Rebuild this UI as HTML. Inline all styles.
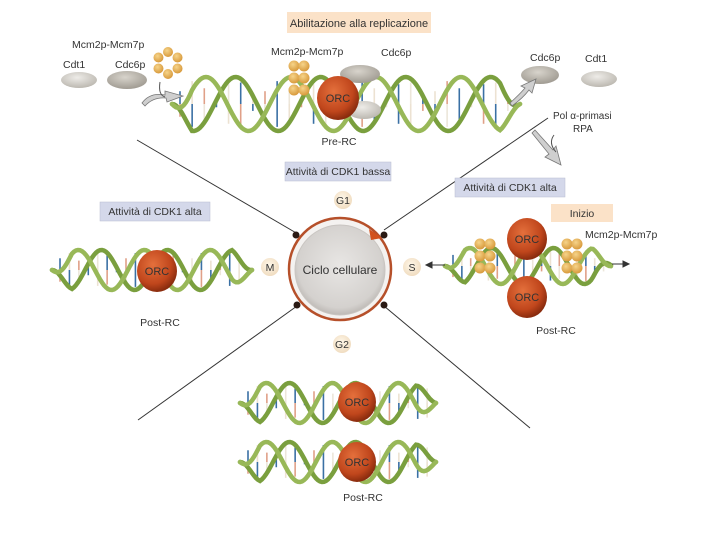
<!DOCTYPE html>
<html><head><meta charset="utf-8">
<style>
html,body{margin:0;padding:0;background:#fff;width:720px;height:540px;overflow:hidden}
svg{display:block}
text{font-family:"Liberation Sans",sans-serif;fill:#333}
</style></head>
<body>
<svg id="s" width="720" height="540" viewBox="0 0 720 540" xmlns="http://www.w3.org/2000/svg">
<defs>
<radialGradient id="orc" cx="40%" cy="35%" r="65%">
<stop offset="0" stop-color="#e4703c"/><stop offset="0.7" stop-color="#c0461c"/><stop offset="1" stop-color="#8a2c0e"/>
</radialGradient>
<radialGradient id="mcm" cx="40%" cy="35%" r="65%">
<stop offset="0" stop-color="#f6d48a"/><stop offset="1" stop-color="#d89a3c"/>
</radialGradient>
<radialGradient id="gry" cx="45%" cy="35%" r="70%">
<stop offset="0" stop-color="#eeece8"/><stop offset="1" stop-color="#b8b4ac"/>
</radialGradient>
<radialGradient id="dgry" cx="45%" cy="35%" r="70%">
<stop offset="0" stop-color="#d8d4cc"/><stop offset="1" stop-color="#9c978e"/>
</radialGradient>
<radialGradient id="cyc" cx="50%" cy="45%" r="55%">
<stop offset="0" stop-color="#e8e6e4"/><stop offset="0.85" stop-color="#d4d1ce"/><stop offset="1" stop-color="#bdb9b5"/>
</radialGradient>
<radialGradient id="lbl" cx="45%" cy="40%" r="60%">
<stop offset="0" stop-color="#fff8ea"/><stop offset="1" stop-color="#f0dcc0"/>
</radialGradient>
</defs>

<g stroke="#333" stroke-width="1" fill="none">
<line x1="137" y1="140" x2="298" y2="234"/>
<line x1="548" y1="118" x2="384" y2="230"/>
<line x1="297" y1="306" x2="138" y2="420"/>
<line x1="384" y1="306" x2="530" y2="428"/>
</g>

<g id="helices"></g>

<rect x="287" y="12" width="144" height="21" fill="#fbe2c8"/>
<text x="359" y="27" font-size="11" text-anchor="middle">Abilitazione alla replicazione</text>

<text x="72" y="48" font-size="10.5">Mcm2p-Mcm7p</text>
<text x="63" y="68" font-size="10.5">Cdt1</text>
<text x="115" y="68" font-size="10.5">Cdc6p</text>
<ellipse cx="79" cy="80" rx="18" ry="8" fill="url(#gry)"/>
<ellipse cx="127" cy="80" rx="20" ry="9" fill="url(#dgry)"/>
<g id="ring1"></g>
<text x="271" y="55" font-size="10.5">Mcm2p-Mcm7p</text>
<text x="381" y="56" font-size="10.5">Cdc6p</text>
<text x="530" y="61" font-size="10.5">Cdc6p</text>
<text x="585" y="62" font-size="10.5">Cdt1</text>
<ellipse cx="540" cy="75" rx="19" ry="9" fill="url(#dgry)"/>
<ellipse cx="599" cy="79" rx="18" ry="8" fill="url(#gry)"/>
<text x="553" y="119" font-size="10">Pol α-primasi</text>
<text x="573" y="132" font-size="10">RPA</text>
<text x="339" y="145" font-size="10.5" text-anchor="middle">Pre-RC</text>

<g fill="#cfcfcf" stroke="#777" stroke-width="0.8">
<path d="M142 103 Q150 92 165 95 L165 91 L183 96 L167 102 L166 98 Q153 97 145 106 Z"/>
<path d="M510 103 Q520 94 525 88 L521 86 L536 79 L532 93 L529 90 Q523 98 512 106 Z"/>
<path d="M535 130 L553 150 L556 146 L561 165 L545 157 L549 154 L532 133 Z"/>
</g>
<path d="M160 82 Q158 95 165 97" stroke="#555" fill="none"/>
<path d="M554 135 Q548 143 556 152" stroke="#555" fill="none"/>

<rect x="285" y="162" width="106" height="19" fill="#d4d8ea" stroke="#b8bcd0" stroke-width="0.5"/>
<text x="338" y="175" font-size="10.5" text-anchor="middle">Attività di CDK1 bassa</text>
<rect x="100" y="202" width="110" height="19" fill="#d4d8ea" stroke="#b8bcd0" stroke-width="0.5"/>
<text x="155" y="215" font-size="10.5" text-anchor="middle">Attività di CDK1 alta</text>
<rect x="455" y="178" width="110" height="19" fill="#d4d8ea" stroke="#b8bcd0" stroke-width="0.5"/>
<text x="510" y="191" font-size="10.5" text-anchor="middle">Attività di CDK1 alta</text>
<rect x="551" y="204" width="62" height="18" fill="#fbe2c8"/>
<text x="582" y="217" font-size="10.5" text-anchor="middle">Inizio</text>
<text x="585" y="238" font-size="10.5">Mcm2p-Mcm7p</text>

<circle cx="340" cy="269" r="51" fill="#f4f2f0" stroke="#b6502a" stroke-width="2.5"/>
<circle cx="340" cy="270" r="45" fill="url(#cyc)" stroke="#c9c5c1" stroke-width="1"/>
<path d="M369 229 L382 238 L371 240 Z" fill="#d2521e"/>
<text x="340" y="274" font-size="12" text-anchor="middle" fill="#444">Ciclo cellulare</text>
<g fill="#2a1a14">
<circle cx="296" cy="235" r="3.5"/><circle cx="384" cy="235" r="3.5"/>
<circle cx="297" cy="305" r="3.5"/><circle cx="384" cy="305" r="3.5"/>
</g>
<g font-size="10.5" text-anchor="middle">
<circle cx="343" cy="200" r="9" fill="url(#lbl)"/><text x="343" y="204">G1</text>
<circle cx="270" cy="267" r="9" fill="url(#lbl)"/><text x="270" y="271">M</text>
<circle cx="412" cy="267" r="9" fill="url(#lbl)"/><text x="412" y="271">S</text>
<circle cx="342" cy="344" r="9" fill="url(#lbl)"/><text x="342" y="348">G2</text>
</g>

<text x="160" y="326" font-size="10.5" text-anchor="middle">Post-RC</text>
<text x="556" y="334" font-size="10.5" text-anchor="middle">Post-RC</text>
<text x="363" y="501" font-size="10.5" text-anchor="middle">Post-RC</text>

<g stroke="#333" stroke-width="1">
<line x1="445" y1="265" x2="430" y2="265"/><path d="M426 265 L432 262 L432 268 Z" fill="#333"/>
<line x1="612" y1="264" x2="625" y2="264"/><path d="M629 264 L623 261 L623 267 Z" fill="#333"/>
</g>
<g id="fg"></g>
</svg>
<script>
var NS="http://www.w3.org/2000/svg";
var H=document.getElementById("helices"),FG=document.getElementById("fg");
function el(p,t,a){var e=document.createElementNS(NS,t);for(var k in a)e.setAttribute(k,a[k]);p.appendChild(e);return e;}
function helix(x0,x1,cy,amp,per,ph){
 var cols=["#3a70a4","#ece2d2","#e0a088","#3a70a4","#ece6da"];var i=0;
 for(var x=x0+8;x<x1-6;x+=per/7){
  var a=Math.sin((x-x0)/per*2*Math.PI+ph)*amp;
  var h=Math.abs(a)*0.85;
  el(H,"line",{x1:x,y1:cy-h,x2:x,y2:cy,stroke:cols[i%5],"stroke-width":1.6});
  el(H,"line",{x1:x,y1:cy,x2:x,y2:cy+h,stroke:cols[(i+2)%5],"stroke-width":1.6});i++;
 }
 for(var s=0;s<2;s++){
  var d="";
  for(var x=x0;x<=x1;x+=2){
   var t=(x-x0)/per*2*Math.PI+ph+s*2.2;
   var env=Math.min(1,(x-x0)/20,(x1-x)/20);
   var y=cy+Math.sin(t)*amp*Math.max(env,0);
   d+=(x==x0?"M":"L")+x.toFixed(1)+" "+y.toFixed(1);
  }
  el(H,"path",{d:d,fill:"none",stroke:s?"#98b858":"#7a9f3e","stroke-width":4.5,"stroke-linecap":"round"});
 }
}
helix(172,520,104,27,85,0);
helix(52,252,270,20,66,0);
helix(445,612,266,18,62,0);
helix(240,436,403,20,66,0);
helix(240,436,462,20,66,0);
function orc(p,cx,cy,r){el(p,"ellipse",{cx:cx,cy:cy,rx:r,ry:r*1.05,fill:"url(#orc)"});var t=el(p,"text",{x:cx,y:cy+4,"font-size":11,"text-anchor":"middle",fill:"#5a1a08"});t.textContent="ORC";}
function ring(p,cx,cy,r,br){for(var k=0;k<6;k++){var a=k/6*2*Math.PI+Math.PI/6;el(p,"circle",{cx:cx+Math.cos(a)*r,cy:cy+Math.sin(a)*r,r:br,fill:"url(#mcm)"});}}
function blob(p,cx,cy){var pts=[[-5,-12],[5,-12],[-5,0],[5,0],[-5,12],[5,12]];pts.forEach(function(q){el(p,"circle",{cx:cx+q[0],cy:cy+q[1],r:5.5,fill:"url(#mcm)"});});}
ring(document.getElementById("ring1"),168,63,11,5);
el(FG,"ellipse",{cx:360,cy:74,rx:20,ry:9,fill:"url(#dgry)"});
el(FG,"ellipse",{cx:364,cy:110,rx:17,ry:9,fill:"url(#gry)"});
blob(FG,299,78);
orc(FG,338,98,21);
orc(FG,157,271,20);
blob(FG,485,256);blob(FG,572,256);
orc(FG,527,239,20);
orc(FG,527,297,20);
orc(FG,357,402,19);
orc(FG,357,462,19);
</script>
</body></html>
